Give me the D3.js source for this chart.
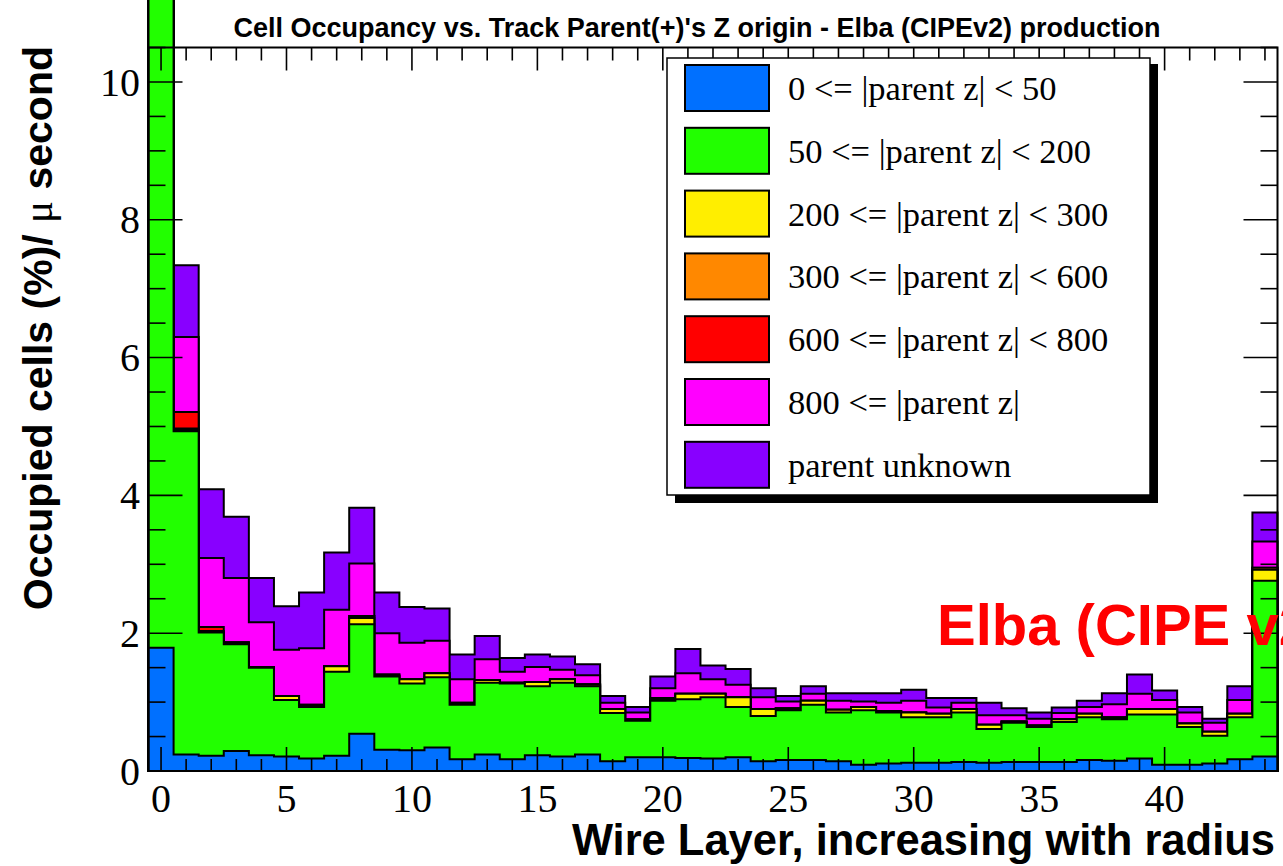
<!DOCTYPE html>
<html>
<head>
<meta charset="utf-8">
<script src="https://cdn.jsdelivr.net/npm/d3@7"></script>
<style>
  body { margin: 0; background: #fff; }
  svg { display: block; }
</style>
</head>
<body>
<div id="chart"></div>
<script>
var width  = 1283;
var height = 866;

// wire layers 0..44, one bin each
var layers = d3.range(0, 45);

// per-layer occupancy (%/us) for each parent-z class
var blueVals    = [1.79,0.24,0.22,0.29,0.23,0.21,0.18,0.22,0.54,0.31,0.30,0.34,0.17,0.24,0.17,0.23,0.21,0.24,0.14,0.20,0.20,0.19,0.18,0.20,0.14,0.16,0.16,0.14,0.09,0.11,0.12,0.12,0.13,0.12,0.13,0.13,0.13,0.16,0.15,0.18,0.09,0.09,0.11,0.17,0.21];
var greenVals   = [9.80,4.69,1.79,1.55,1.27,0.82,0.75,1.22,1.59,1.06,0.97,1.02,0.79,1.04,1.10,1.00,1.07,0.99,0.70,0.53,0.82,0.85,0.89,0.73,0.66,0.72,0.80,0.71,0.79,0.74,0.66,0.66,0.72,0.49,0.57,0.51,0.58,0.62,0.60,0.64,0.73,0.55,0.40,0.61,2.55];
var yellowVals  = [0,0.02,0,0.01,0.01,0.06,0.02,0.08,0.09,0.01,0.06,0.06,0.02,0.04,0.01,0.06,0.05,0.02,0.06,0.01,0.02,0.08,0.05,0.14,0.10,0.02,0.06,0.04,0.05,0.02,0.07,0.05,0.05,0.06,0.02,0.02,0.04,0.05,0.02,0.08,0.08,0.05,0.06,0.05,0.16];
var orangeVals  = [0,0.02,0.02,0.02,0,0,0.01,0,0.03,0.02,0,0,0.01,0,0,0,0,0.01,0,0.01,0.01,0,0,0,0,0.01,0,0,0,0,0,0,0,0,0,0,0,0,0.01,0,0,0,0,0,0.03];
var redVals     = [0,0.24,0.06,0,0,0,0,0,0,0,0,0,0,0,0,0,0,0,0,0,0.01,0,0,0,0,0,0,0,0,0,0,0,0,0,0,0,0,0,0,0,0,0,0,0,0];
var magentaVals = [0,1.09,1.00,0.93,0.65,0.67,0.82,0.82,0.76,0.60,0.53,0.47,0.34,0.30,0.16,0.22,0.14,0.13,0.09,0.10,0.14,0.30,0.21,0.18,0.17,0.10,0.10,0.13,0.08,0.12,0.17,0.09,0.09,0.14,0.09,0.10,0.09,0.10,0.19,0.22,0.13,0.16,0.13,0.20,0.38];
var purpleVals  = [0,1.04,1.00,0.89,0.64,0.63,0.81,0.83,0.81,0.59,0.52,0.47,0.36,0.34,0.20,0.18,0.19,0.16,0.10,0.08,0.17,0.35,0.20,0.23,0.13,0.08,0.11,0.11,0.12,0.14,0.16,0.14,0.07,0.18,0.10,0.09,0.08,0.09,0.16,0.28,0.14,0.08,0.06,0.20,0.42];

var seriesKeys   = ["z0","z50","z200","z300","z600","z800","unknown"];
var seriesNames  = ["0 <= |parent z| < 50","50 <= |parent z| < 200","200 <= |parent z| < 300",
                    "300 <= |parent z| < 600","600 <= |parent z| < 800","800 <= |parent z|","parent unknown"];
var seriesColors = ["#0070ff","#22ff00","#ffee00","#ff8800","#ff0000","#ff00ff","#8800ff"];
var seriesVals   = [blueVals, greenVals, yellowVals, orangeVals, redVals, magentaVals, purpleVals];

var xTicks = [0,5,10,15,20,25,30,35,40];
var yTicks = [0,2,4,6,8,10];

var rows = layers.map(function(l, i) {
  var r = {layer: l};
  seriesKeys.forEach(function(k, j) { r[k] = seriesVals[j][i]; });
  return r;
});

var stacked = d3.stack().keys(seriesKeys)(rows);

var svg = d3.select("#chart").append("svg")
  .attr("width", width)
  .attr("height", height);

// plot frame (window.top is reserved, so own names)
var pLeft = 148.5, pRight = 1277.5, pTop = 47.5, pBottom = 771;

var x = d3.scaleLinear().domain([-0.5, 44.5]).range([pLeft, pRight]);
var y = d3.scaleLinear().domain([0, 10.5]).range([pBottom, pTop]);

// step outline of a cumulative layer
var area = d3.area()
  .x(function(d) { return x(d[0]); })
  .y0(y(0))
  .y1(function(d) { return y(d[1]); });

function stepPoints(layer) {
  var pts = [];
  layer.forEach(function(d, i) {
    pts.push([i - 0.5, d[1]]);
    pts.push([i + 0.5, d[1]]);
  });
  return pts;
}

// THStack style: biggest sum first, each one painted over the previous
for (var k = stacked.length - 1; k >= 0; k--) {
  svg.append("path")
    .attr("d", area(stepPoints(stacked[k])))
    .style("fill", seriesColors[k])
    .style("stroke", "black")
    .style("stroke-width", 2)
    .style("stroke-linejoin", "miter");
}

// frame
svg.append("rect")
  .attr("x", pLeft).attr("y", pTop)
  .attr("width", pRight - pLeft).attr("height", pBottom - pTop)
  .style("fill", "none").style("stroke", "black").style("stroke-width", 2);

var tickG = svg.append("g").style("stroke", "black").style("stroke-width", 1.6);

// x ticks, bottom and top
d3.range(0, 45).forEach(function(v) {
  var major = v % 5 === 0;
  var lb = major ? 24 : 12, lt = major ? 23 : 13;
  tickG.append("line").attr("x1", x(v)).attr("x2", x(v)).attr("y1", pBottom).attr("y2", pBottom - lb);
  tickG.append("line").attr("x1", x(v)).attr("x2", x(v)).attr("y1", pTop).attr("y2", pTop + lt);
});

// y ticks, left and right
d3.range(0, 10.51, 0.5).forEach(function(v) {
  var major = Math.abs(v % 2) < 1e-6;
  var l = major ? 34 : 17;
  tickG.append("line").attr("x1", pLeft).attr("x2", pLeft + l).attr("y1", y(v)).attr("y2", y(v));
  tickG.append("line").attr("x1", pRight).attr("x2", pRight - l).attr("y1", y(v)).attr("y2", y(v));
});

var serif = "'Liberation Serif', 'Times New Roman', serif";
var sans  = "'Liberation Sans', Arial, Helvetica, sans-serif";

svg.selectAll(".xlab")
  .data(xTicks)
  .enter().append("text")
  .attr("class", "xlab")
  .attr("x", function(d) { return x(d); })
  .attr("y", 812)
  .attr("text-anchor", "middle")
  .style("font-family", serif)
  .style("font-size", "40px")
  .text(function(d) { return d; });

svg.selectAll(".ylab")
  .data(yTicks)
  .enter().append("text")
  .attr("class", "ylab")
  .attr("x", 140)
  .attr("y", function(d) { return y(d); })
  .attr("dy", "0.34em")
  .attr("text-anchor", "end")
  .style("font-family", serif)
  .style("font-size", "40px")
  .text(function(d) { return d; });

// titles
svg.append("text")
  .attr("x", 697).attr("y", 37)
  .attr("text-anchor", "middle")
  .style("font-family", sans).style("font-weight", "bold").style("font-size", "27px")
  .text("Cell Occupancy vs. Track Parent(+)'s Z origin - Elba (CIPEv2) production");

svg.append("text")
  .attr("x", 1275).attr("y", 855)
  .attr("text-anchor", "end")
  .style("font-family", sans).style("font-weight", "bold").style("font-size", "43.5px")
  .text("Wire Layer, increasing with radius");

var yt = svg.append("text")
  .attr("transform", "translate(52,46) rotate(-90)")
  .attr("text-anchor", "end")
  .style("font-family", sans).style("font-weight", "bold").style("font-size", "41px");
yt.append("tspan").text("Occupied cells (%)/ ");
yt.append("tspan").style("font-family", serif).style("font-weight", "normal").text("\u03bc");
yt.append("tspan").text(" second");

// legend
var lg = svg.append("g");
lg.append("rect").attr("x", 675).attr("y", 64).attr("width", 483).attr("height", 439).style("fill", "black");
lg.append("rect").attr("x", 667).attr("y", 58).attr("width", 483).attr("height", 437)
  .style("fill", "white").style("stroke", "black").style("stroke-width", 1.5);

var rowsG = lg.selectAll(".entry")
  .data(seriesNames)
  .enter().append("g")
  .attr("class", "entry")
  .attr("transform", function(d, i) { return "translate(0," + (65 + i * 62.8) + ")"; });

rowsG.append("rect")
  .attr("x", 685).attr("y", 0).attr("width", 84).attr("height", 46)
  .style("fill", function(d, i) { return seriesColors[i]; })
  .style("stroke", "black").style("stroke-width", 2);

rowsG.append("text")
  .attr("x", 788).attr("y", 23).attr("dy", "0.35em")
  .style("font-family", serif).style("font-size", "34.5px")
  .text(function(d) { return d; });

// red annotation pasted over the plot
svg.append("text")
  .attr("x", 937).attr("y", 645)
  .style("font-family", sans).style("font-weight", "bold").style("font-size", "58px")
  .style("fill", "#ff0000")
  .text("Elba (CIPE v2)");
</script>
</body>
</html>
